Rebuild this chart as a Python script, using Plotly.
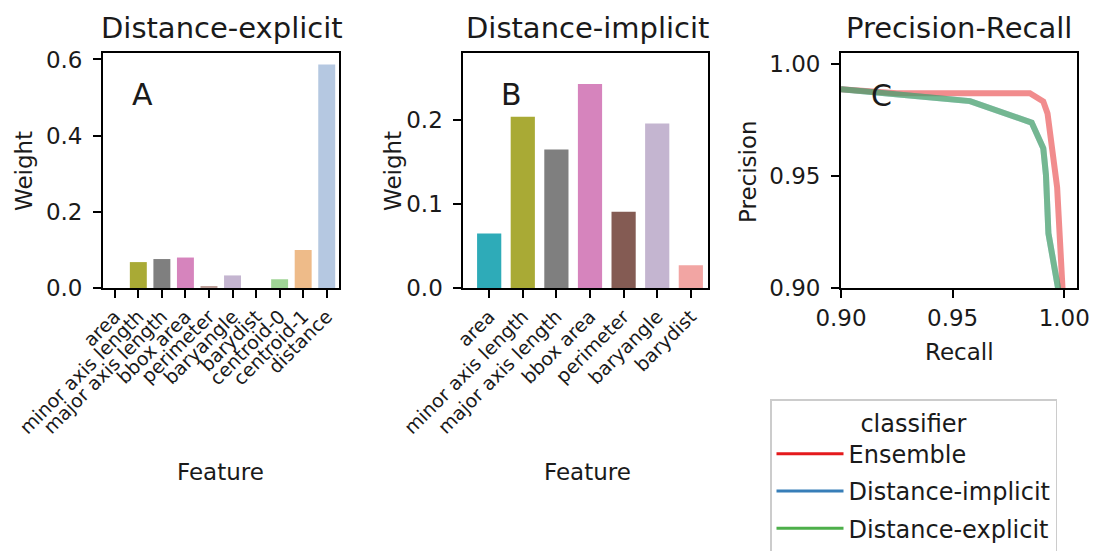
import colorsys
import plotly.graph_objects as go

# ---------------- data ----------------
features_a = ["area", "minor axis length", "major axis length", "bbox area", "perimeter",
              "baryangle", "barydist", "centroid-0", "centroid-1", "distance"]
weights_a = [0.0, 0.068, 0.076, 0.080, 0.005, 0.033, 0.0, 0.023, 0.100, 0.587]

features_b = ["area", "minor axis length", "major axis length", "bbox area", "perimeter",
              "baryangle", "barydist"]
weights_b = [0.065, 0.204, 0.165, 0.243, 0.091, 0.196, 0.027]

ens_recall = [0.900, 0.925, 0.9846, 0.9906, 0.9925, 0.9968, 0.9992, 0.9995]
ens_precision = [0.9888, 0.9870, 0.9870, 0.9833, 0.9780, 0.9450, 0.9000, 0.8900]

impl_recall = [0.900, 0.9578, 0.9854, 0.9906, 0.9918, 0.9929, 0.9972, 0.9976]
impl_precision = [0.9888, 0.9835, 0.9739, 0.9624, 0.9505, 0.9244, 0.9000, 0.8900]

expl_recall = [0.900, 0.9578, 0.9854, 0.9906, 0.9918, 0.9929, 0.9972, 0.9976]
expl_precision = [0.9888, 0.9835, 0.9739, 0.9624, 0.9505, 0.9244, 0.9000, 0.8900]

classifiers = ["Ensemble", "Distance-implicit", "Distance-explicit"]

# ---------------- styling ----------------
tab20 = {
    "area": "#17becf", "minor axis length": "#bcbd22", "major axis length": "#7f7f7f",
    "bbox area": "#e377c2", "baryangle": "#c5b0d5", "barydist": "#ff9896",
    "centroid-0": "#98df8a", "centroid-1": "#ffbb78", "distance": "#aec7e8",
}
perim_a = "#c49c94"
perim_b = "#8c564b"


def desat(hx, prop=0.75):
    r, g, b = (int(hx[i:i + 2], 16) / 255 for i in (1, 3, 5))
    h, l, s = colorsys.rgb_to_hls(r, g, b)
    r, g, b = colorsys.hls_to_rgb(h, l, s * prop)
    return "#%02x%02x%02x" % (round(r * 255), round(g * 255), round(b * 255))


colors_a = [desat(perim_a if f == "perimeter" else tab20[f]) for f in features_a]
colors_b = [desat(perim_b if f == "perimeter" else tab20[f]) for f in features_b]

line_colors = {"Ensemble": "#e41a1c", "Distance-implicit": "#377eb8", "Distance-explicit": "#4daf4a"}


def rgba(hx, a):
    return "rgba(%d,%d,%d,%s)" % (int(hx[1:3], 16), int(hx[3:5], 16), int(hx[5:7], 16), a)


W, H = 1096, 551
FONT = "DejaVu Sans"
TXT = "#1a1a1a"


def px(x):
    return x / W


def py(y):
    return 1 - y / H


ydom = [py(288), py(53)]
dom_a = [px(103), px(338.5)]
dom_b = [px(463.3), px(708.3)]
dom_c = [px(841), px(1077)]

fig = go.Figure()

fig.add_trace(go.Bar(x=list(range(len(features_a))), y=weights_a, marker=dict(color=colors_a, line=dict(width=0)),
                     width=0.72, xaxis="x", yaxis="y", showlegend=False))
fig.add_trace(go.Bar(x=list(range(len(features_b))), y=weights_b, marker=dict(color=colors_b, line=dict(width=0)),
                     width=0.72, xaxis="x2", yaxis="y2", showlegend=False))

pr = {
    "Ensemble": (ens_recall, ens_precision),
    "Distance-implicit": (impl_recall, impl_precision),
    "Distance-explicit": (expl_recall, expl_precision),
}
for name in classifiers:
    rx, py_ = pr[name]
    fig.add_trace(go.Scatter(x=rx, y=py_, mode="lines", line=dict(color=rgba(line_colors[name], 0.5), width=6),
                             xaxis="x3", yaxis="y3", showlegend=False, hoverinfo="x+y"))
for name in classifiers:
    fig.add_trace(go.Scatter(x=[None], y=[None], mode="lines", name=name, legendgroup=name,
                             line=dict(color=line_colors[name], width=3), xaxis="x3", yaxis="y3"))

axis_common = dict(showline=True, mirror=True, linecolor="black", linewidth=1.8, ticks="outside",
                   ticklen=8, tickwidth=1.8, tickcolor="black", showgrid=False, zeroline=False,
                   automargin=False, tickfont=dict(family=FONT, size=23, color=TXT))
xcat_font = dict(family=FONT, size=19, color=TXT)

fig.update_layout(
    width=W, height=H, margin=dict(l=0, r=0, t=0, b=0, autoexpand=False),
    plot_bgcolor="white", paper_bgcolor="white",
    font=dict(family=FONT, color=TXT),
    xaxis=dict(domain=dom_a, anchor="y", range=[-0.5, 9.5], tickmode="array",
               tickvals=list(range(len(features_a))), ticktext=features_a, tickangle=-45,
               **{**axis_common, "tickfont": xcat_font}),
    yaxis=dict(domain=ydom, anchor="x", range=[0, 0.617], tickmode="array",
               tickvals=[0, 0.2, 0.4, 0.6], ticktext=["0.0", "0.2", "0.4", "0.6"],
               ticklabelstandoff=6, **axis_common),
    xaxis2=dict(domain=dom_b, anchor="y2", range=[-0.77, 6.52], tickmode="array",
                tickvals=list(range(len(features_b))), ticktext=features_b, tickangle=-45,
                **{**axis_common, "tickfont": xcat_font}),
    yaxis2=dict(domain=ydom, anchor="x2", range=[0, 0.28], tickmode="array",
                tickvals=[0, 0.1, 0.2], ticktext=["0.0", "0.1", "0.2"],
                ticklabelstandoff=6, **axis_common),
    xaxis3=dict(domain=dom_c, anchor="y3", range=[0.9, 1.0057], tickmode="array",
                tickvals=[0.90, 0.95, 1.00], ticktext=["0.90", "0.95", "1.00"], **axis_common),
    yaxis3=dict(domain=ydom, anchor="x3", range=[0.9, 1.005], tickmode="array",
                tickvals=[0.90, 0.95, 1.00], ticktext=["0.90", "0.95", "1.00"],
                ticklabelstandoff=6, **axis_common),
    legend=dict(x=px(770), y=py(399), xanchor="left", yanchor="top",
                bordercolor="#cccccc", borderwidth=1.5, bgcolor="white",
                font=dict(family=FONT, size=24, color=TXT), tracegroupgap=3,
                title=dict(text="classifier", side="top center", font=dict(family=FONT, size=24, color=TXT)),
                itemwidth=67),
)

ann = []


def text(x, y, s, size, angle=0):
    ann.append(dict(x=px(x), y=py(y), xref="paper", yref="paper", text=s, showarrow=False,
                    font=dict(family=FONT, size=size, color=TXT), textangle=angle,
                    xanchor="center", yanchor="middle"))


text(221.5, 28, "Distance-explicit", 29)
text(587, 28, "Distance-implicit", 29)
text(959, 28, "Precision-Recall", 29)
text(142.7, 94, "A", 30)
text(511.7, 94, "B", 30)
text(881.7, 95, "C", 30)
text(24, 171, "Weight", 23, -90)
text(393, 171, "Weight", 23, -90)
text(748, 172, "Precision", 23, -90)
text(959, 352, "Recall", 23)
text(220.7, 472, "Feature", 23)
text(587, 472, "Feature", 23)
fig.update_layout(annotations=ann)

fig.write_html("out.html", config={"displayModeBar": False},
               post_script="document.body.style.margin='0';")
